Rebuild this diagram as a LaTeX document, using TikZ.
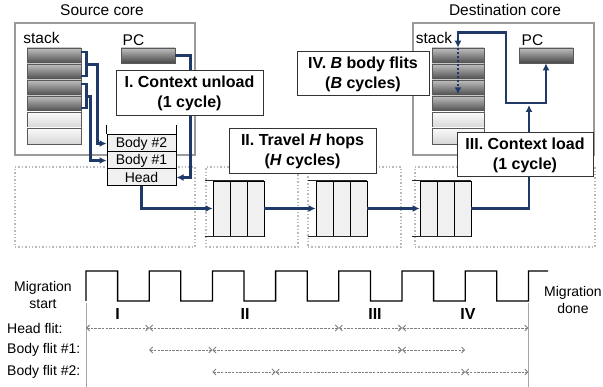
\documentclass[tikz,border=0pt]{standalone}
\usepackage{fontspec}
\setmainfont{Liberation Sans}
\usetikzlibrary{arrows.meta,calc}
\definecolor{flowblue}{HTML}{1F3A68}
\definecolor{coregris}{HTML}{9A9A9A}
\tikzset{
  core/.style={rectangle, draw=coregris, line width=1.5pt, inner sep=0pt},
  router/.style={rectangle, draw=gray!55, dotted, line width=1.4pt, inner sep=0pt},
  darkreg/.style={rectangle, draw=black!65, line width=0.6pt, top color=gray!50, bottom color=black!72,
                  minimum height=16pt, inner sep=0pt},
  lightreg/.style={rectangle, draw=black!65, line width=0.6pt, top color=gray!4, bottom color=gray!32,
                   minimum height=16pt, inner sep=0pt},
  flit/.style={rectangle, draw=black, line width=1pt, fill=gray!12, minimum width=69pt,
               minimum height=17pt, inner sep=0pt, font=\fontsize{14}{16}\selectfont},
  bufcell/.style={rectangle, draw=black, line width=0.9pt, fill=gray!12, minimum width=17pt,
                  minimum height=55pt, inner sep=0pt},
  bufline/.style={draw=black!85, line width=1.4pt},
  phasebox/.style={rectangle, draw=black!80, line width=1pt, fill=white, align=center,
                   inner sep=0pt, font=\bfseries\fontsize{16}{20}\selectfont},
  lbl/.style={inner sep=0pt, font=\fontsize{15.5}{18}\selectfont},
  rowlbl/.style={inner sep=0pt, align=center, font=\fontsize{14}{17}\selectfont},
  phasemark/.style={inner sep=0pt, font=\bfseries\fontsize{16}{18}\selectfont},
  link/.style={draw=flowblue, line width=2.5pt},
  flow/.style={link, -{Latex[length=7pt,width=7pt]}},
  wave/.style={draw=black, line width=1.3pt},
  endline/.style={draw=gray!70, line width=1pt},
  span/.style={{Straight Barb[length=3pt,width=6pt]}-{Straight Barb[length=3pt,width=6pt]},
               draw=gray, line width=0.9pt, dash pattern=on 2.5pt off 1.2pt},
}

\begin{document}
\begin{tikzpicture}[x=1pt,y=-1pt]
  \useasboundingbox (0,0) rectangle (603,387);

  \node[core, minimum width=180pt, minimum height=132pt] (src) at (105,89) {};
  \node[core, minimum width=181pt, minimum height=132pt] (dst) at (503.5,89) {};
  \node[lbl] (srct) at (102,10) {Source core};
  \node[lbl] (dstt) at (505,10) {Destination core};

  \node[router, minimum width=180pt, minimum height=80pt] (r1) at (105,207) {};
  \node[router, minimum width=92pt, minimum height=80pt] (r2) at (252,207) {};
  \node[router, minimum width=93pt, minimum height=80pt] (r3) at (354.5,207) {};
  \node[router, minimum width=180pt, minimum height=80pt] (r4) at (505,207) {};

  \node[lbl] (sst) at (41.5,38) {stack};
  \node[lbl] (dst st) at (434,38) {stack};
  \node[lbl] (spct) at (133.5,40) {PC};
  \node[lbl] (dpct) at (532.5,40) {PC};
  \foreach \i/\sty in {0/darkreg,1/darkreg,2/darkreg,3/darkreg,4/lightreg,5/lightreg} {
    \node[\sty, minimum width=54pt] (s\i) at (54,{56+16*\i}) {};
    \node[\sty, minimum width=52pt] (d\i) at (458,{56+16*\i}) {};
  }
  \node[darkreg, minimum width=54pt, minimum height=15pt] (pcs) at (148,55.5) {};
  \node[darkreg, minimum width=54pt, minimum height=15pt] (pcd) at (546,55.5) {};

  \node[flit] (b2) at (141.5,143.5) {Body \#2};
  \node[flit] (b1) at (141.5,160.5) {Body \#1};
  \node[flit] (head) at (141.5,177.5) {Head};
  \draw[line width=1pt] (b2.north west) -- ++(0,-9);
  \draw[line width=1pt] (b2.north east) -- ++(0,-9);

  \foreach \r/\x in {2/221.5,3/324.5,4/428.5}
    \foreach \c in {1,2,3}
      \node[bufcell] (b\r\c) at ({\x+17*(\c-1)},208.5) {};
  \foreach \r in {2,3,4} {
    \draw[bufline] ([xshift=-8pt]b\r1.north west) -- (b\r3.north east);
    \draw[bufline] ([xshift=-8pt]b\r1.south west) -- (b\r3.south east);
  }

  \draw[flow] (pcs.east) -- ++(15,0) |- (head.east);
  \draw[link] ([yshift=4pt]s0.east) -| ([xshift=5pt,yshift=-4pt]s1.east) -- ([yshift=-4pt]s1.east);
  \draw[link] ([yshift=4pt]s2.east) -| ([xshift=5pt,yshift=-4pt]s3.east) -- ([yshift=-4pt]s3.east);
  \draw[flow] ([xshift=5pt]s0.south east) -- ++(11,0) |- (b2.west);
  \draw[flow] ([xshift=5pt]s2.south east) -- ++(4,0) |- (b1.west);
  \draw[flow] (head.south) |- (b21.west);
  \draw[flow] (b23.east) -- (b31.west);
  \draw[flow] (b33.east) -- (b41.west);
  \coordinate (jn) at (529,103);
  \draw[flow] (b43.east) -| ([yshift=-2pt]jn);
  \draw[flow] (jn) -| (pcd.south);
  \draw[flow] (jn) -| ($(d0.north)+(48,-15)$) -| (d0.north);
  \draw[flow, dash pattern=on 2pt off 2pt] (d0.north) -- ([yshift=2pt]d2.south);

  \node[phasebox, minimum width=147pt, minimum height=45pt] (ph1) at (189.5,93.5)
    {I. Context unload\\(1 cycle)};
  \node[phasebox, minimum width=147pt, minimum height=45pt] (ph2) at (302.5,151.5)
    {II. Travel \textit{H} hops\\(\textit{H} cycles)};
  \node[phasebox, minimum width=136pt, minimum height=44pt] (ph3) at (525,155)
    {III. Context load\\(1 cycle)};
  \node[phasebox, minimum width=132pt, minimum height=44pt] (ph4) at (363,74)
    {IV. \textit{B} body flits\\(\textit{B} cycles)};

  \draw[wave] (86,301) \foreach \k in {0,...,6} { -- ({86+63.2*\k},271) -- ({117.6+63.2*\k},271)
    -- ({117.6+63.2*\k},301) -- ({149.2+63.2*\k},301) } -- (528.4,271) -- (548,271);
  \foreach \i in {0,...,7} \coordinate (t\i) at ({86+63.2*\i},301);
  \draw[endline] ([yshift=-2pt]t0) -- ++(0,84);
  \draw[endline] ([yshift=-2pt]t7) -- ++(0,84);

  \node[rowlbl] (mstart) at (43,294.5) {Migration\\start};
  \node[rowlbl] (mdone) at (573,300) {Migration\\done};
  \node[phasemark] (m1) at (117.6,314) {I};
  \node[phasemark] (m2) at (245,314) {II};
  \node[phasemark] (m3) at (375,314) {III};
  \node[phasemark] (m4) at (468,314) {IV};

  \node[rowlbl, anchor=west] (hf) at (7,328) {Head flit:};
  \node[rowlbl, anchor=west] (bf1) at (7,350) {Body flit \#1:};
  \node[rowlbl, anchor=west] (bf2) at (7,372) {Body flit \#2:};
  \foreach \a/\b in {0/1,1/4,4/5,5/7} \draw[span] (t\a |- hf) -- (t\b |- hf);
  \foreach \a/\b in {1/2,2/5,5/6} \draw[span] (t\a |- bf1) -- (t\b |- bf1);
  \foreach \a/\b in {2/3,3/6,6/7} \draw[span] (t\a |- bf2) -- (t\b |- bf2);
\end{tikzpicture}
\end{document}
